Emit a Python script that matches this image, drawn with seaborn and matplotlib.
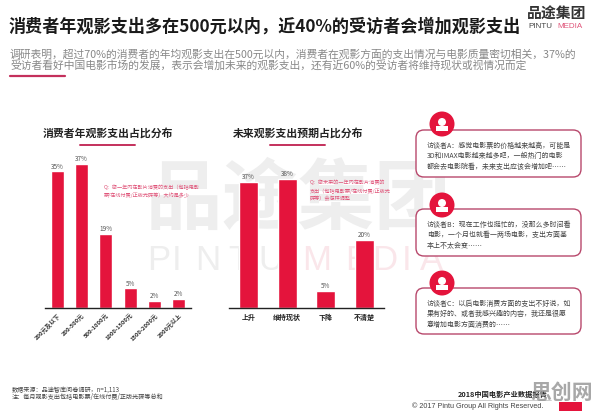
"""Consumer film spending slide: two bar charts with interview call-outs."""
import matplotlib
matplotlib.use("Agg")
import matplotlib.pyplot as plt
from matplotlib.patches import Circle, FancyBboxPatch, Rectangle
import pandas as pd
import seaborn as sns

# full-width punctuation
C, K, LP, RP = "\uff0c", "\uff1a", "\uff08", "\uff09"

# ── Data ─────────────────────────────────────────────────────────────────────
SPEND_CATS   = ["200元及以下", "200-500元", "500-1000元", "1000-1500元", "1500-2000元", "2000元以上"]
SPEND_VALUES = [35, 37, 19, 5, 1.8, 2.3]
SPEND_LABELS = ["35%", "37%", "19%", "5%", "2%", "2%"]

FUTURE_CATS   = ["上升", "维持现状", "下降", "不清楚"]
FUTURE_VALUES = [37, 38, 5, 20]
FUTURE_LABELS = ["37%", "38%", "5%", "20%"]

TITLE = f"消费者年观影支出多在500元以内{C}近40%的受访者会增加观影支出"
INTRO = [f"调研表明{C}超过70%的消费者的年均观影支出在500元以内{C}消费者在观影方面的支出情况与电影质量密切相关{C}37%的",
         f"受访者看好中国电影市场的发展{C}表示会增加未来的观影支出{C}还有近60%的受访者将维持现状或视情况而定"]
QUOTES = [
    [f"访谈者A{K}感觉电影票的价格越来越高{C}可能是", f"3D和IMAX电影越来越多吧{C}一般热门的电影", f"都会去电影院看{C}未来支出应该会增加吧……"],
    [f"访谈者B{K}现在工作也挺忙的{C}没那么多时间看", f"电影{C}一个月也就看一两场电影{C}支出方面基", "本上不太会变……"],
    [f"访谈者C{K}以后电影消费方面的支出不好说{C}如", f"果有好的、或者我感兴趣的内容{C}我还是很愿", "意增加电影方面消费的……"],
]
MARK_LETTERS = ["P", "I", "N", "T", "U", "M", "E", "D", "I", "A"]

# ── Style ────────────────────────────────────────────────────────────────────
sns.set_style("white")
plt.rcParams["font.family"] = ["Noto Sans CJK SC", "DejaVu Sans"]
W, H = 596, 411
RED, ROSE = "#e4143c", "#c4305c"

fig = plt.figure(figsize=(W / 100, H / 100), dpi=100, facecolor="white")

# page layer in pixel coordinates, y pointing down
page = fig.add_axes([0, 0, 1, 1], zorder=0)
page.set_xlim(0, W)
page.set_ylim(H, 0)
page.axis("off")


def txt(x, y, s, size, color="#222222", weight="normal", ha="left", **kw):
    page.text(x, y, s, fontsize=size, color=color, fontweight=weight, ha=ha, va="center", **kw)


def bar_chart(cats, values, labels, x0, x1, top, y_max, bar_frac):
    """Bars on their own axes, box given in page pixels, baseline at y=308."""
    ax = fig.add_axes([x0 / W, 1 - 308 / H, (x1 - x0) / W, (308 - top) / H], zorder=2)
    ax.patch.set_alpha(0)
    df = pd.DataFrame({"cat": cats, "value": values})
    sns.barplot(data=df, x="cat", y="value", color=RED, saturation=1, width=bar_frac, ax=ax)
    ax.set_ylim(0, y_max)
    ax.set_xlim(-0.5, len(cats) - 0.5)
    ax.set(xlabel="", ylabel="", yticks=[])
    sns.despine(ax=ax, left=True)
    ax.spines["bottom"].set_color("#222222")
    ax.spines["bottom"].set_linewidth(1.0)
    ax.bar_label(ax.containers[0], labels=labels, fontsize=4.6, color="#555555", padding=0.5)
    return ax


# ── Watermark ────────────────────────────────────────────────────────────────
txt(298, 200, "品途集团", 55, color="#eeeeee", weight="bold", ha="center")
for letter, x in zip(MARK_LETTERS, [147, 172, 195, 228, 258, 302, 345, 372, 402, 420]):
    txt(x, 260, letter, 25, color="#fae6ea" if x > 290 else "#eeeeee", family="Liberation Sans")

# ── Header ───────────────────────────────────────────────────────────────────
txt(9, 27, TITLE, 12.3, color="#1a1a1a", weight="bold")
txt(10, 54, INTRO[0], 7.75, color="#888888")
txt(10, 66, INTRO[1], 7.75, color="#888888")
page.plot([10, 65], [76, 76], color=ROSE, lw=1.6)
txt(557, 14, "品途集团", 10.7, color="#333333", weight="bold", ha="center")
txt(528, 27, "PINTU", 5.8, color="#444444", family="Liberation Sans")
txt(557, 27, "MEDIA", 5.8, color="#e0557a", family="Liberation Sans")

# ── Charts ───────────────────────────────────────────────────────────────────
ax1 = bar_chart(SPEND_CATS, SPEND_VALUES, SPEND_LABELS, 45, 191, 160, 37.9, 0.53)
ax1.set_xticks(range(len(SPEND_CATS)))
ax1.set_xticklabels(SPEND_CATS, rotation=45, ha="right", rotation_mode="anchor", fontsize=4.2,
                    color="#333333", fontweight="bold")
ax1.tick_params(axis="x", length=0, pad=3)

ax2 = bar_chart(FUTURE_CATS, FUTURE_VALUES, FUTURE_LABELS, 229, 384, 160, 43.5, 0.49)
ax2.set_xticks(range(len(FUTURE_CATS)))
ax2.set_xticklabels(FUTURE_CATS, fontsize=5, color="#222222", fontweight="bold")
ax2.tick_params(axis="x", length=0, pad=4)

txt(43, 133, "消费者年观影支出占比分布", 7.8, color="#222222", weight="bold")
txt(233, 133, "未来观影支出预期占比分布", 7.8, color="#222222", weight="bold")
page.plot([80, 135], [145, 145], color=ROSE, lw=1.4)
page.plot([270, 325], [145, 145], color=ROSE, lw=1.4)

txt(104, 188, f"Q{K}您一年内在影片消费的支出{LP}包括电影", 3.7, color="#e0557a")
txt(104, 195, f"票/在线付费/正版光碟等{RP}大约是多少", 3.7, color="#e0557a")
txt(310, 183, f"Q{K}您未来的一年内在影片消费的", 3.7, color="#e0557a")
txt(310, 191, f"支出{LP}包括电影票/在线付费/正版光", 3.7, color="#e0557a")
txt(310, 199, f"碟等{RP}会怎样调整", 3.7, color="#e0557a")

# ── Interview call-outs ──────────────────────────────────────────────────────
for (y0, y1, cy), lines in zip([(130, 177, 124), (209, 256, 205), (288, 334, 283)], QUOTES):
    page.add_patch(FancyBboxPatch((416, y0), 165, y1 - y0, boxstyle="round,pad=0,rounding_size=8",
                                  fc="white", ec="#b8486c", lw=1.0, zorder=3))
    page.add_patch(Circle((442, cy), 12.5, fc=RED, ec="none", zorder=4))
    page.add_patch(Circle((442, cy - 2), 4, fc="white", ec="none", zorder=5))
    page.add_patch(Rectangle((436, cy + 2), 12, 5, fc="white", ec="none", zorder=5))
    for line, y in zip(lines, [y0 + 16, y0 + 26, y0 + 37]):
        txt(427, y, line, 5.0, color="#444444", zorder=6)

# ── Footer ───────────────────────────────────────────────────────────────────
txt(12, 390, f"数据来源{K}品途智库问卷调研{C}n=1,113", 4.4, color="#444444", style="italic")
txt(12, 397, f"注{K}每月观影支出包括电影票/在线付费/正版光碟等总和", 4.4, color="#444444", style="italic")
txt(458, 394, "2018中国电影产业数据报告", 5.2, color="#222222", weight="bold")
page.plot([424, 551], [400, 400], color="#bbbbbb", lw=0.5)
txt(412, 406, "© 2017 Pintu Group All Rights Reserved.", 5.2, color="#444444", family="Liberation Sans")
page.add_patch(Rectangle((559, 402), 23, 9, fc=RED, ec="none", zorder=3))
txt(562, 392, "思创网", 15, color="#999999", weight="bold", ha="center", alpha=0.85, zorder=4)

fig.savefig("out.png", dpi=100)
